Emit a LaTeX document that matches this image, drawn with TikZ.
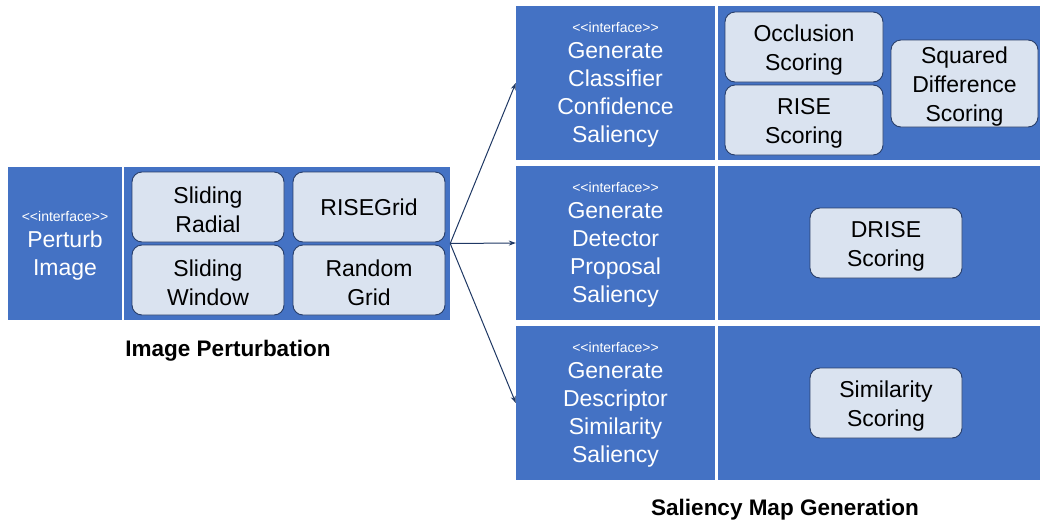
\documentclass[tikz,border=0pt]{standalone}
\usepackage{fontspec}
\setmainfont{Liberation Sans}
\usetikzlibrary{arrows.meta}
\definecolor{cellblue}{RGB}{68,114,196}
\definecolor{boxfill}{RGB}{218,227,240}
\definecolor{boxline}{RGB}{40,62,105}
\definecolor{arrowcol}{RGB}{31,56,100}
\newcommand{\ifacelabel}{{\fontsize{14}{17}\selectfont\rule{0pt}{14.5pt}<\kern0pt<interface>\kern0pt>}\\[-2pt]}
\newcommand{\toplift}{\rule{0pt}{22.5pt}}
\begin{document}
\begin{tikzpicture}[x=1pt,y=-1pt,
  cell/.style={fill=cellblue, draw=none, inner sep=0pt, text=white, align=center,
    font=\fontsize{23}{28}\selectfont},
  block/.style={fill=cellblue, draw=none, inner sep=0pt},
  impl/.style={fill=boxfill, draw=boxline, line width=0.9pt, rounded corners=10pt,
    inner sep=0pt, align=center, text=black, font=\fontsize{23}{29}\selectfont},
  link/.style={draw=arrowcol, line width=1pt, -{Stealth[length=7pt,width=5pt]}},
  title/.style={font=\fontsize{22.5}{26}\selectfont\bfseries, text=black, inner sep=0pt}
]
\useasboundingbox (0,0) rectangle (1042,520);

% Left group
\node[cell, minimum width=114pt, minimum height=153pt] (perturb) at (65,243.5)
  {\ifacelabel Perturb\\Image};
\node[block, minimum width=326pt, minimum height=153pt] (pimpl) at (287,243.5) {};
\node[impl, minimum width=152pt, minimum height=70pt] (sradial) at (208,207) {\toplift Sliding\\Radial};
\node[impl, minimum width=152pt, minimum height=70pt] (risegrid) at (369,207) {RISEGrid};
\node[impl, minimum width=152pt, minimum height=70pt] (swindow) at (208,280) {\toplift Sliding\\Window};
\node[impl, minimum width=152pt, minimum height=70pt] (rgrid) at (369,280) {\toplift Random\\Grid};
\node[title] (ptitle) at (228,350.5) {Image Perturbation};

% Right group - row 1
\node[cell, minimum width=199pt, minimum height=154pt] (gccs) at (615.5,83)
  {\ifacelabel Generate\\Classifier\\Confidence\\Saliency};
\node[block, minimum width=322pt, minimum height=154pt] (c1) at (879,83) {};
\node[impl, minimum width=158pt, minimum height=70pt] (occl) at (804,47) {\toplift Occlusion\\Scoring};
\node[impl, minimum width=158pt, minimum height=70pt] (rises) at (804,120) {\toplift RISE\\Scoring};
\node[impl, minimum width=147pt, minimum height=87pt] (sqd) at (964.5,83.5) {\toplift Squared\\Difference\\Scoring};

% row 2
\node[cell, minimum width=199pt, minimum height=154pt] (gdps) at (615.5,243)
  {\ifacelabel Generate\\Detector\\Proposal\\Saliency};
\node[block, minimum width=322pt, minimum height=154pt] (c2) at (879,243) {};
\node[impl, minimum width=152pt, minimum height=70pt] (drise) at (886,243) {\toplift DRISE\\Scoring};

% row 3
\node[cell, minimum width=199pt, minimum height=154pt] (gdss) at (615.5,403)
  {\ifacelabel Generate\\Descriptor\\Similarity\\Saliency};
\node[block, minimum width=322pt, minimum height=154pt] (c3) at (879,403) {};
\node[impl, minimum width=152pt, minimum height=70pt] (sims) at (886,403) {\toplift Similarity\\Scoring};

\node[title] (stitle) at (785,509.5) {Saliency Map Generation};

% connectors
\draw[link] (pimpl.east) -- (gccs.west);
\draw[link] (pimpl.east) -- (gdps.west);
\draw[link] (pimpl.east) -- (gdss.west);
\end{tikzpicture}
\end{document}
